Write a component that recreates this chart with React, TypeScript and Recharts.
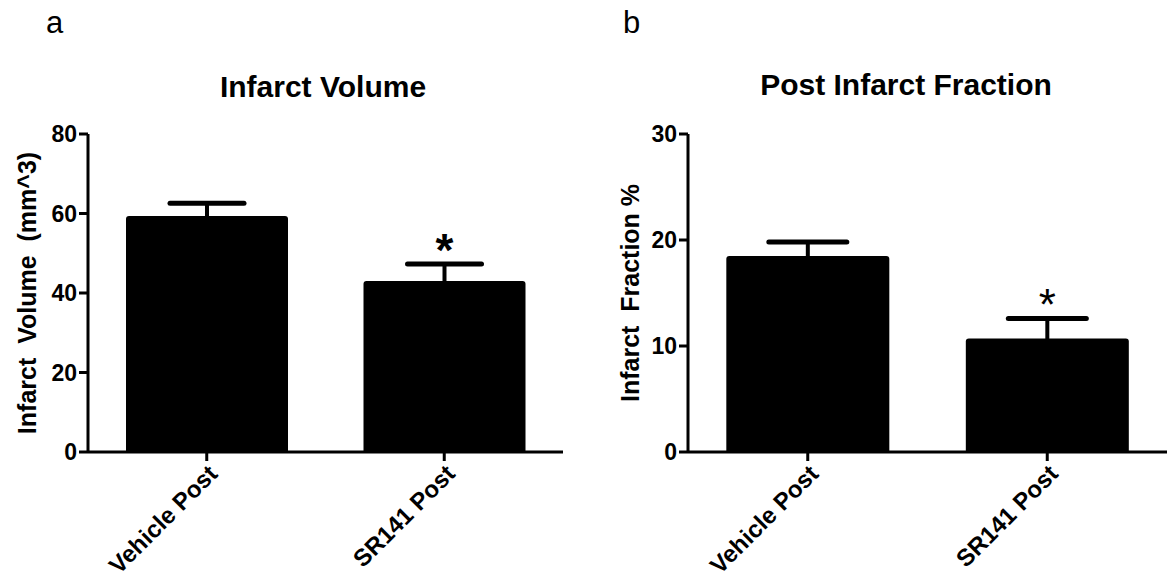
import React from "react";
import { BarChart, Bar, XAxis, YAxis, LabelList, Rectangle } from "recharts";

// --- data ---
const groups = ["Vehicle Post", "SR141 Post"];

const volumeMean = [59.4, 43.0];
const volumeSem = [3.2, 4.3];
const volumeSig = ["", "*"];
const volumeTicks = [0, 20, 40, 60, 80];

const fractionMean = [18.5, 10.7];
const fractionSem = [1.3, 1.9];
const fractionSig = ["", "*"];
const fractionTicks = [0, 10, 20, 30];

const FONT = "'Liberation Sans', Arial, Helvetica, sans-serif";

const buildRows = (mean: number[], sem: number[], sig: string[]) =>
  groups.map((g, i) => ({
    group: g,
    mean: mean[i],
    sem: sem[i],
    sig: sig[i],
  }));

const volumeRows = buildRows(volumeMean, volumeSem, volumeSig);
const fractionRows = buildRows(fractionMean, fractionSem, fractionSig);

const AngledTick = ({ x, y, payload }: any) => (
  <g transform={`translate(${x},${y})`}>
    <text
      transform="rotate(-45)"
      textAnchor="end"
      dy="0.72em"
      fontSize={24}
      fontWeight="bold"
      fontFamily={FONT}
      fill="#000"
    >
      {payload.value}
    </text>
  </g>
);

// bar + one-sided (upper) SEM bar, scaled from the bar's own pixel height
const barWithError = (capHalf: number) => (props: any) => {
  const { x, y, width, height, payload } = props;
  const capY = y - (height * payload.sem) / payload.mean;
  const cx = x + width / 2;
  return (
    <g>
      <line x1={cx} y1={y + 2} x2={cx} y2={capY} stroke="#000" strokeWidth={4} />
      <line
        x1={cx - capHalf}
        y1={capY}
        x2={cx + capHalf}
        y2={capY}
        stroke="#000"
        strokeWidth={5}
        strokeLinecap="round"
      />
      <Rectangle x={x} y={y} width={width} height={height} radius={[3, 3, 0, 0]} fill="#000" />
    </g>
  );
};

// asterisk sits just above the top of the error bar
const starLabel = (rows: any[], bold: boolean) => (props: any) => {
  const { x, y, width, height, index } = props;
  const row = rows[index];
  if (!row || !row.sig) return null;
  const capTop = y - (height * row.sem) / row.mean;
  return (
    <text
      x={x + width / 2}
      y={capTop + 2}
      textAnchor="middle"
      fontSize={bold ? 46 : 44}
      fontWeight={bold ? "bold" : "normal"}
      fontFamily={FONT}
      fill="#000"
    >
      {row.sig}
    </text>
  );
};

type PanelProps = {
  rows: any[];
  ticks: number[];
  ylabel: string;
  left: number;
  width: number;
  axisW: number;
  rightMargin: number;
  labelOffset: number;
  capHalf: number;
  starBold: boolean;
};

const Panel = ({
  rows,
  ticks,
  ylabel,
  left,
  width,
  axisW,
  rightMargin,
  labelOffset,
  capHalf,
  starBold,
}: PanelProps) => (
  <div style={{ position: "absolute", left, top: 0 }}>
    <BarChart
      width={width}
      height={585}
      data={rows}
      margin={{ top: 134, right: rightMargin, bottom: 0, left: 0 }}
      barCategoryGap="16%"
    >
      <XAxis
        dataKey="group"
        height={133}
        interval={0}
        tick={<AngledTick />}
        tickSize={9}
        tickMargin={2}
        axisLine={{ stroke: "#000", strokeWidth: 3 }}
        tickLine={{ stroke: "#000", strokeWidth: 3 }}
      />
      <YAxis
        width={axisW}
        domain={[ticks[0], ticks[ticks.length - 1]]}
        ticks={ticks}
        interval={0}
        tickSize={9}
        tickMargin={2}
        axisLine={{ stroke: "#000", strokeWidth: 3 }}
        tickLine={{ stroke: "#000", strokeWidth: 3 }}
        tick={{ fill: "#000", fontSize: 23, fontWeight: "bold", fontFamily: FONT }}
        label={{
          value: ylabel,
          angle: -90,
          position: "insideLeft",
          offset: labelOffset,
          style: {
            textAnchor: "middle",
            fontSize: 25,
            fontWeight: "bold",
            fontFamily: FONT,
            fill: "#000",
          },
        }}
      />
      <Bar dataKey="mean" fill="#000" shape={barWithError(capHalf)} isAnimationActive={false}>
        <LabelList dataKey="sig" content={starLabel(rows, starBold)} />
      </Bar>
    </BarChart>
  </div>
);

export default function App() {
  return (
    <div
      style={{
        position: "absolute",
        left: 0,
        top: 0,
        width: 1167,
        height: 585,
        background: "#fff",
        fontFamily: FONT,
      }}
    >
      <Panel
        rows={volumeRows}
        ticks={volumeTicks}
        ylabel={"Infarct\u00a0\u00a0Volume\u00a0\u00a0(mm^3)"}
        left={0}
        width={583}
        axisW={88}
        rightMargin={20}
        labelOffset={27}
        capHalf={37}
        starBold={true}
      />
      <Panel
        rows={fractionRows}
        ticks={fractionTicks}
        ylabel={"Infarct\u00a0\u00a0Fraction\u00a0%"}
        left={583}
        width={584}
        axisW={105}
        rightMargin={0}
        labelOffset={47}
        capHalf={39}
        starBold={false}
      />
      <svg
        width={1167}
        height={585}
        style={{ position: "absolute", left: 0, top: 0, pointerEvents: "none" }}
      >
        <text x={46} y={33} fontSize={31} fontFamily={FONT} fill="#000">
          a
        </text>
        <text x={623} y={33} fontSize={31} fontFamily={FONT} fill="#000">
          b
        </text>
        <text
          x={323}
          y={97}
          textAnchor="middle"
          fontSize={30}
          fontWeight="bold"
          fontFamily={FONT}
          fill="#000"
        >
          Infarct Volume
        </text>
        <text
          x={906}
          y={95}
          textAnchor="middle"
          fontSize={30}
          fontWeight="bold"
          fontFamily={FONT}
          fill="#000"
        >
          Post Infarct Fraction
        </text>
      </svg>
    </div>
  );
}
